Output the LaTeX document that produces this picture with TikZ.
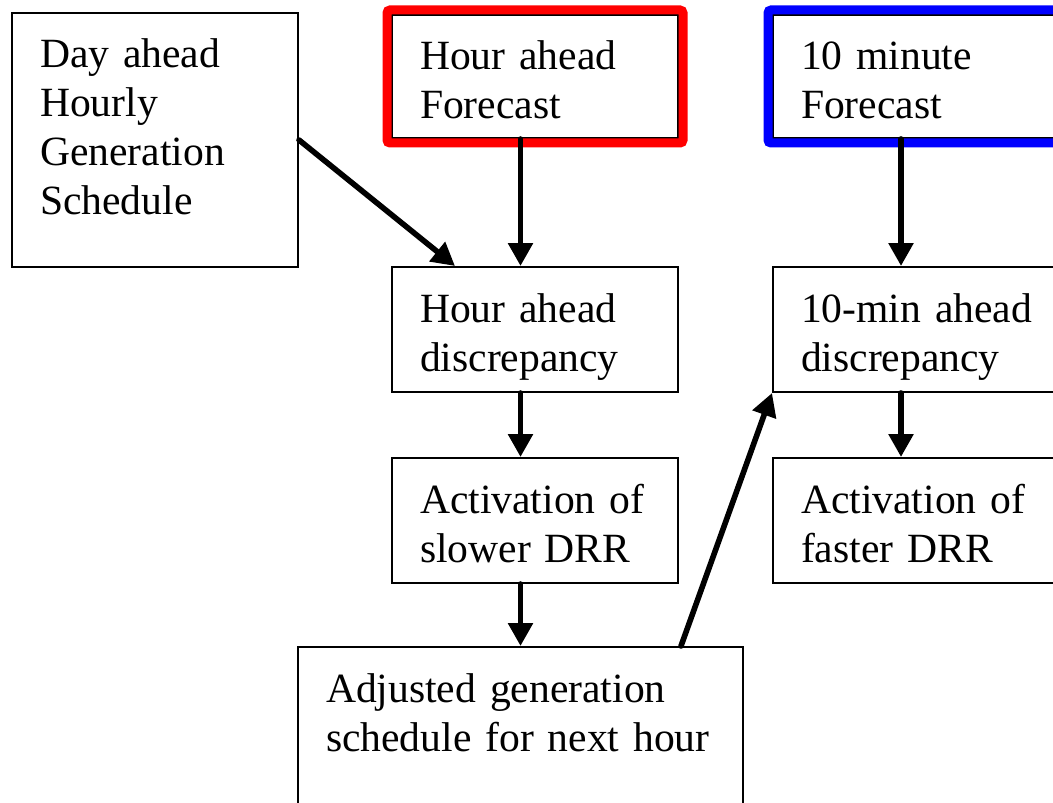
\documentclass[tikz,border=0pt]{standalone}
\usepackage{fontspec}
\setmainfont{Liberation Serif}
\usetikzlibrary{arrows.meta, fit}
\definecolor{FCRed}{RGB}{255, 0, 0}
\definecolor{FCBlue}{RGB}{0, 0, 255}

\begin{document}
\begin{tikzpicture}[
  x=0.5pt, y=-0.5pt,
  every node/.style={font=\fontsize{20.8}{24.5}\selectfont},
  box/.style={draw, line width=1pt, anchor=north west, align=left,
              inner xsep=14pt, inner ysep=15pt, text height=12.5pt,
              text width=115pt, text depth=20pt},
  tallbox/.style={box, text depth=84.5pt},
  fcbox/.style={box, text depth=19pt},
  widebox/.style={box, text width=194.5pt, text depth=57.5pt},
  ringbox/.style={draw=#1, line width=4.5pt, rounded corners=1.5pt, inner sep=2pt},
  arr/.style={-{Triangle[length=11.5pt, width=12pt]}, line width=2.8pt, line cap=round}
]
  \useasboundingbox (0,0) rectangle (1053,802);
  \clip (0,0) rectangle (1053,802);

  %% Boxes
  \node[tallbox] (day)      at (11,12)  {Day ahead\\Hourly\\Generation\\Schedule};
  \node[fcbox]   (hourfc)   at (391,14) {Hour~ahead\\Forecast};
  \node[fcbox]   (tenfc)    at (772,14) {10~minute\\Forecast};
  \node[box]     (hourdisc) at (391,266) {Hour~ahead\\discrepancy};
  \node[box]     (tendisc)  at (772,266) {\mbox{10-min}~ahead\\discrepancy};
  \node[box]     (slower)   at (391,457) {Activation~of\\slower~DRR};
  \node[box]     (faster)   at (772,457) {Activation~of\\faster~DRR};
  \node[widebox] (adjusted) at (297,646) {Adjusted~generation\\schedule~for~next~hour};

  %% Coloured frames round the forecasts
  \node[ringbox=FCRed,  fit=(hourfc)] (hourring) {};
  \node[ringbox=FCBlue, fit=(tenfc)]  (tenring)  {};

  %% Arrows
  \draw[arr] (adjusted.north |- hourfc.south)   -- (adjusted.north |- hourdisc.north);
  \draw[arr] (adjusted.north |- hourdisc.south) -- (adjusted.north |- slower.north);
  \draw[arr] (adjusted.north |- slower.south)   -- (adjusted.north);
  \draw[arr] (day.east) -- ([xshift=32pt]hourdisc.north west);
  \draw[arr] ([xshift=-31.5pt]adjusted.north east) -- (tendisc.south west);
  \draw[arr] ([xshift=-7.5pt]tenfc.south)   -- ([xshift=-7.5pt]tendisc.north);
  \draw[arr] ([xshift=-7.5pt]tendisc.south) -- ([xshift=-7.5pt]faster.north);
\end{tikzpicture}
\end{document}
